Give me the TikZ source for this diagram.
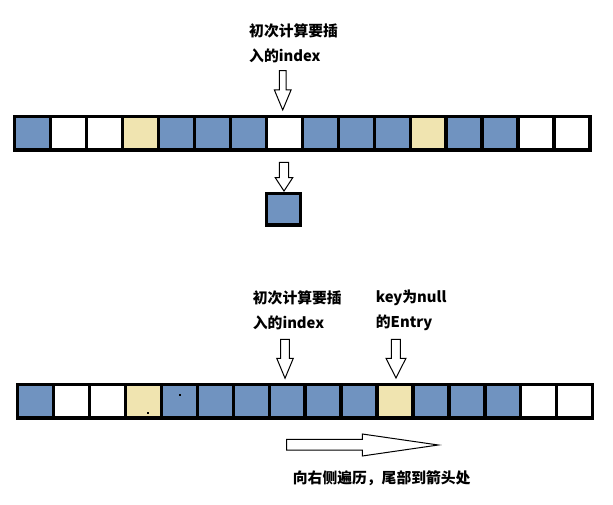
\documentclass[tikz,border=0pt]{standalone}
\usepackage{fontspec}
\newfontfamily\cjkfont{Noto Sans CJK SC}
\usepackage{tikz}
\usetikzlibrary{calc}
\usetikzlibrary{positioning}
\definecolor{cb}{RGB}{112,147,192}
\definecolor{cy}{RGB}{240,228,176}
\colorlet{cw}{white}
\pgfkeys{tikz/cell/.style={draw,line width=3.3pt,inner sep=0pt,outer sep=0pt,minimum width=35.95pt,minimum height=33.3pt}}
\pgfkeys{tikz/blockarr/.style={draw,line width=1pt,fill=white,line join=miter}}
\pgfkeys{tikz/lbl/.style={font=\cjkfont\bfseries\fontsize{14.8}{25}\selectfont,align=left,inner sep=0pt,anchor=north west}}
% #1 top of shaft, #2 tip, #3 half shaft, #4 half head, #5 head length
\newcommand{\blockdown}[5]{%
  \draw[blockarr] let \p1=(#1), \p2=(#2) in
    (\p2) -- (\x2-#4pt,\y2+#5pt) -- (\x2-#3pt,\y2+#5pt) -- (\x2-#3pt,\y1)
    -- (\x2+#3pt,\y1) -- (\x2+#3pt,\y2+#5pt) -- (\x2+#4pt,\y2+#5pt) -- cycle;}

\begin{document}
\begin{tikzpicture}[x=1pt,y=-1pt]
    \useasboundingbox[fill=white] (0,0) rectangle (613,505);
    % first table
    \foreach \c [count=\i] in {cb,cw,cw,cy,cb,cb,cb,cw,cb,cb,cb,cy,cb,cb,cw,cw}
        \node[cell,fill=\c] (a-\i) at ({14.7+35.95*(\i-0.5)},133.3) {};
    \node[lbl] (first) at (249,23.3) {初次计算要插\\入的index};
    \blockdown{$(a-8.north)+(-1.6,-46)$}{$(a-8.north)+(-1.6,-6.7)$}{3.35}{8.35}{20}
    \node[cell,fill=cb,minimum width=34pt,minimum height=31.7pt] (slot) at (283.7,209.2) {};
    \blockdown{$(slot.north)+(0.3,-31)$}{$(slot.north)+(0.3,-2.3)$}{4.7}{8.7}{13.3}
    % second table
    \foreach \c [count=\i] in {cb,cw,cw,cy,cb,cb,cb,cb,cb,cb,cy,cb,cb,cb,cw,cw}
        \node[cell,fill=\c] (b-\i) at ({17.5+35.95*(\i-0.5)},401.3) {};
    \fill (147,412) rectangle ++(1.5,1.5);
    \fill (179,394) rectangle ++(1.5,1.5);
    \node[lbl] (second) at (252.7,290) {初次计算要插\\入的index};
    \node[lbl] (nullkey) at (375.7,290) {key为null\\的Entry};
    \blockdown{$(b-8.north)+(-2.1,-45.4)$}{$(b-8.north)+(-2.1,-6.4)$}{4.3}{8.3}{20}
    \blockdown{$(b-11.north)+(1,-45.4)$}{$(b-11.north)+(1,-6.7)$}{4.5}{10}{19.7}
    \draw[blockarr] (438.3,445) -- (362.3,434) -- (362.3,439.3) -- (286.7,439.3)
        -- (286.7,450) -- (362.3,450) -- (362.3,456) -- cycle;
    \node[lbl] (walk) at (292.7,470.6) {向右侧遍历，尾部到箭头处};
\end{tikzpicture}
\end{document}
